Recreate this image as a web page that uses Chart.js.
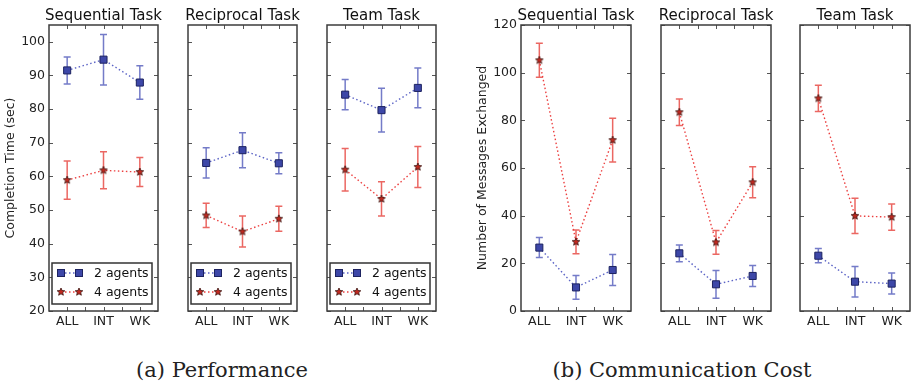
<!DOCTYPE html>
<html>
<head>
<meta charset="utf-8">
<script src="https://cdn.jsdelivr.net/npm/chart.js@4.4.1/dist/chart.umd.min.js"></script>
<style>
html, body { margin: 0; padding: 0; background: #fff; }
#wrap { position: relative; width: 913px; height: 385px; overflow: hidden; }
#wrap canvas { position: absolute; top: 0; }
.cap { position: absolute; top: 358px; line-height: 24px; font-family: "DejaVu Serif", serif; font-size: 21px; color: #222; white-space: nowrap; transform: translateX(-50%); }
</style>
</head>
<body>
<div id="wrap">
  <div class="cap" style="left:222px">(a) Performance</div>
  <div class="cap" style="left:682px">(b) Communication Cost</div>
</div>
<script>
const cats = ['ALL', 'INT', 'WK'];
const tasks = ['Sequential Task', 'Reciprocal Task', 'Team Task'];
const seriesNames = ['2 agents', '4 agents'];
const perfTicks = [20, 30, 40, 50, 60, 70, 80, 90, 100];
const msgTicks = [0, 20, 40, 60, 80, 100, 120];

// completion time (sec): mean and error half-width, per task
const perf2 = [[91.5, 94.7, 87.9], [64.0, 67.8, 63.9], [84.3, 79.7, 86.3]];
const perf2Err = [[4.0, 7.5, 5.0], [4.5, 5.2, 3.1], [4.5, 6.5, 5.9]];
const perf4 = [[58.9, 61.8, 61.3], [48.4, 43.6, 47.4], [62.0, 53.3, 62.8]];
const perf4Err = [[5.7, 5.5, 4.3], [3.6, 4.6, 3.7], [6.3, 5.1, 6.1]];

// number of messages exchanged
const msg2 = [[26.6, 9.9, 17.2], [24.2, 11.2, 14.7], [23.2, 12.3, 11.5]];
const msg2Err = [[4.2, 5.0, 6.5], [3.5, 5.8, 4.4], [3.0, 6.4, 4.4]];
const msg4 = [[105.2, 29.0, 71.7], [83.4, 28.8, 54.0], [89.2, 39.9, 39.4]];
const msg4Err = [[7.1, 5.0, 9.2], [5.6, 5.0, 6.5], [5.5, 7.4, 5.5]];

const FONT = 'DejaVu Sans';
Chart.defaults.font.family = FONT;
Chart.defaults.color = '#222';

const BLUE = '#3d47a8', BLUE_LINE = '#5c64c6', BLUE_ERR = 'rgba(92,100,190,0.85)';
const RED = '#c0281f', RED_LINE = '#ec4040', RED_ERR = 'rgba(232,76,70,0.85)';

function makeStar(r, fill, stroke) {
  const c = document.createElement('canvas');
  const s = Math.ceil(r * 2 + 2);
  c.width = c.height = s;
  const g = c.getContext('2d');
  g.beginPath();
  for (let i = 0; i < 10; i++) {
    const rad = i % 2 ? r * 0.45 : r;
    const a = -Math.PI / 2 + i * Math.PI / 5;
    const px = s / 2 + rad * Math.cos(a), py = s / 2 + rad * Math.sin(a);
    if (i) g.lineTo(px, py); else g.moveTo(px, py);
  }
  g.closePath();
  g.fillStyle = fill;
  g.fill();
  g.lineWidth = 0.8;
  g.strokeStyle = stroke;
  g.stroke();
  return c;
}
const star = makeStar(4, RED, '#3a1410');

function drawSquare(ctx, x, y) {
  ctx.fillStyle = BLUE;
  ctx.fillRect(x - 3.5, y - 3.5, 7, 7);
  ctx.strokeStyle = '#1d2360';
  ctx.lineWidth = 1;
  ctx.strokeRect(x - 3.5, y - 3.5, 7, 7);
}

const panelPlugin = {
  id: 'panel',
  beforeDatasetsDraw(chart) {
    const ctx = chart.ctx, ys = chart.scales.y;
    chart.data.datasets.forEach((ds, i) => {
      const meta = chart.getDatasetMeta(i);
      ctx.save();
      ctx.strokeStyle = ds.errColor;
      ctx.lineWidth = 1.5;
      meta.data.forEach((pt, j) => {
        const y1 = ys.getPixelForValue(ds.data[j] + ds.err[j]);
        const y2 = ys.getPixelForValue(ds.data[j] - ds.err[j]);
        ctx.beginPath();
        ctx.moveTo(pt.x, y1); ctx.lineTo(pt.x, y2);
        ctx.moveTo(pt.x - 3.5, y1); ctx.lineTo(pt.x + 3.5, y1);
        ctx.moveTo(pt.x - 3.5, y2); ctx.lineTo(pt.x + 3.5, y2);
        ctx.stroke();
      });
      ctx.restore();
    });
  },
  afterDraw(chart, args, opts) {
    const ctx = chart.ctx, a = chart.chartArea;
    const xs = chart.scales.x, ys = chart.scales.y;
    ctx.save();
    // inward ticks
    ctx.strokeStyle = '#555';
    ctx.lineWidth = 1;
    ctx.beginPath();
    ys.ticks.forEach(t => {
      const y = Math.round(ys.getPixelForValue(t.value)) + 0.5;
      ctx.moveTo(a.left, y); ctx.lineTo(a.left + 4, y);
      ctx.moveTo(a.right, y); ctx.lineTo(a.right - 4, y);
    });
    const x0 = xs.getPixelForValue(0), step = xs.getPixelForValue(1) - x0;
    for (let k = 0; k <= 4; k++) {
      const x = Math.round(x0 + k * step / 2) + 0.5;
      ctx.moveTo(x, a.bottom); ctx.lineTo(x, a.bottom - 4);
      ctx.moveTo(x, a.top); ctx.lineTo(x, a.top + 4);
    }
    ctx.stroke();
    // frame
    ctx.strokeStyle = '#3c3c3c';
    ctx.lineWidth = 1.5;
    ctx.strokeRect(a.left, a.top, a.right - a.left, a.bottom - a.top);
    // title
    ctx.fillStyle = '#111';
    ctx.font = '15px "' + FONT + '"';
    ctx.textAlign = 'center';
    ctx.textBaseline = 'alphabetic';
    ctx.fillText(opts.title, (a.left + a.right) / 2, 20);
    // legend
    if (opts.legend) {
      const l = a.left + 3, r = a.right - 6, t = a.bottom - 48, b = a.bottom - 7;
      ctx.fillStyle = '#fff';
      ctx.fillRect(l, t, r - l, b - t);
      ctx.strokeStyle = '#333';
      ctx.lineWidth = 1.5;
      ctx.strokeRect(l, t, r - l, b - t);
      const rows = [a.bottom - 38, a.bottom - 19];
      const m1 = a.left + 12, m2 = a.left + 30;
      chart.data.datasets.forEach((ds, i) => {
        const y = rows[i];
        ctx.save();
        ctx.setLineDash([1.5, 2.5]);
        ctx.strokeStyle = ds.borderColor;
        ctx.lineWidth = 1.4;
        ctx.beginPath(); ctx.moveTo(m1, y); ctx.lineTo(m2, y); ctx.stroke();
        ctx.restore();
        [m1, m2].forEach(mx => {
          if (i === 0) drawSquare(ctx, mx, y);
          else ctx.drawImage(star, mx - star.width / 2, y - star.height / 2);
        });
        ctx.fillStyle = '#111';
        ctx.font = '12.5px "' + FONT + '"';
        ctx.textAlign = 'left';
        ctx.textBaseline = 'middle';
        ctx.fillText(ds.label, a.left + 45, y + 1);
      });
    }
    ctx.restore();
  }
};

const wrap = document.getElementById('wrap');
const M = 48;

function makePanel(plotLeft, plotWidth, opt) {
  const cv = document.createElement('canvas');
  cv.width = plotWidth + M + 4;
  cv.height = 335;
  cv.style.left = (plotLeft - M) + 'px';
  wrap.appendChild(cv);
  new Chart(cv, {
    type: 'line',
    data: {
      labels: cats,
      datasets: [
        {
          label: seriesNames[0], data: opt.s2, err: opt.e2, errColor: BLUE_ERR,
          borderColor: BLUE_LINE, borderWidth: 1.4, borderDash: [1.5, 2.5],
          pointStyle: 'rect', pointRadius: 5, pointBackgroundColor: BLUE,
          pointBorderColor: '#1d2360', pointBorderWidth: 1, tension: 0
        },
        {
          label: seriesNames[1], data: opt.s4, err: opt.e4, errColor: RED_ERR,
          borderColor: RED_LINE, borderWidth: 1.4, borderDash: [1.5, 2.5],
          pointStyle: star, pointRadius: 4, tension: 0
        }
      ]
    },
    options: {
      responsive: false,
      animation: false,
      events: [],
      layout: { padding: { left: 0, right: 4, top: 25, bottom: 0 } },
      scales: {
        x: {
          type: 'category', offset: true,
          grid: { display: false, drawTicks: false },
          border: { display: false },
          ticks: { padding: 3, font: { size: 12.5 }, maxRotation: 0, autoSkip: false, color: '#222' },
          afterFit: s => { s.height = 24; }
        },
        y: {
          min: opt.min, max: opt.max,
          grid: { display: false, drawTicks: false },
          border: { display: false },
          ticks: { display: opt.first, padding: 4, font: { size: 12.5 }, color: '#222' },
          afterBuildTicks: s => { s.ticks = opt.ticks.map(v => ({ value: v })); },
          afterFit: s => { s.width = M; },
          title: {
            display: opt.first, text: opt.ytitle,
            font: { size: 12.5 }, padding: { top: 2, bottom: 0 }, color: '#222'
          }
        }
      },
      plugins: {
        legend: { display: false },
        tooltip: { enabled: false },
        panel: { title: opt.title, legend: opt.legend }
      }
    },
    plugins: [panelPlugin]
  });
}

const perfLefts = [49, 188, 327];
const msgLefts = [521, 661, 800];

tasks.forEach((t, i) => {
  makePanel(perfLefts[i], 111, {
    s2: perf2[i], e2: perf2Err[i], s4: perf4[i], e4: perf4Err[i],
    min: 20, max: 105, ticks: perfTicks, first: i === 0,
    ytitle: 'Completion Time (sec)', title: t, legend: true
  });
  makePanel(msgLefts[i], 112, {
    s2: msg2[i], e2: msg2Err[i], s4: msg4[i], e4: msg4Err[i],
    min: 0, max: 120, ticks: msgTicks, first: i === 0,
    ytitle: 'Number of Messages Exchanged', title: t, legend: false
  });
});
</script>
</body>
</html>
